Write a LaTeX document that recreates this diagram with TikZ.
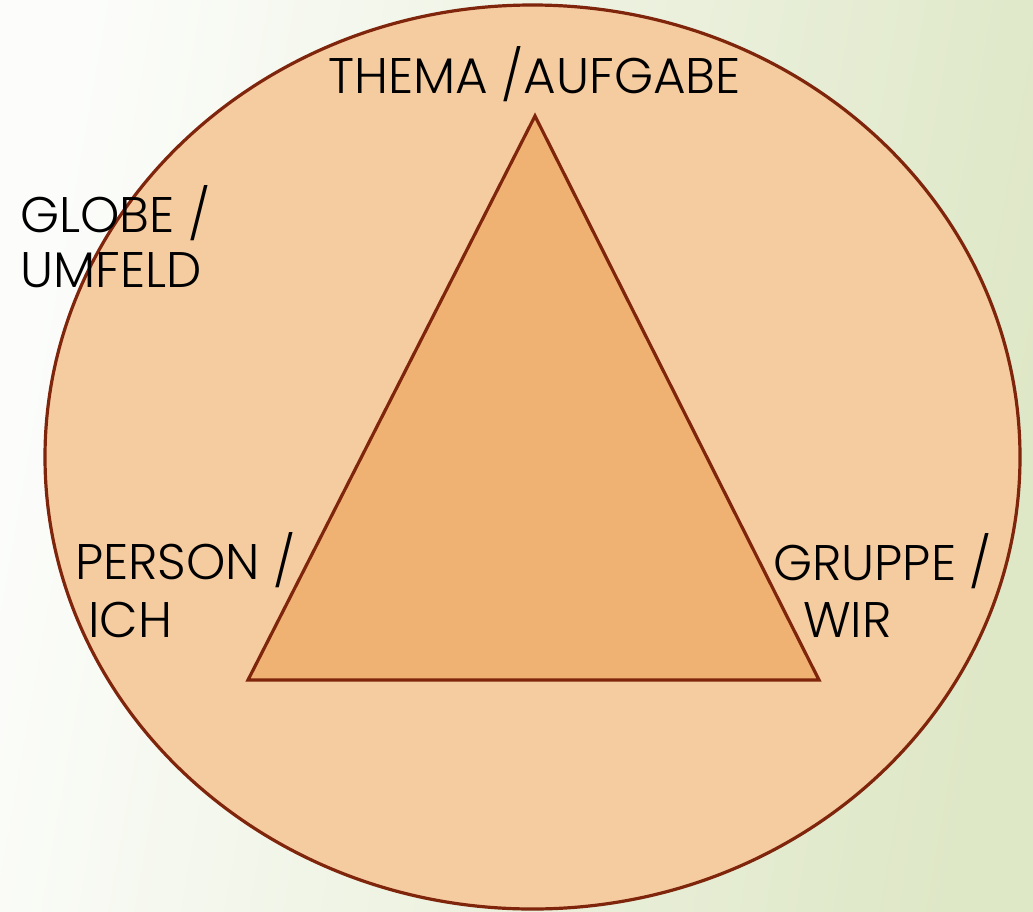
\documentclass[tikz,border=0pt]{standalone}
\usepackage{fontspec}
\setmainfont{Poppins Light}
\definecolor{bgL}{HTML}{FCFDFB}
\definecolor{bgR}{HTML}{DEE7C6}
\definecolor{ellfill}{HTML}{F5CBA0}
\definecolor{trifill}{HTML}{EFB273}
\definecolor{edge}{HTML}{7E250C}
\begin{document}
\begin{tikzpicture}[x=1pt,y=-1pt,
  lbl/.style={anchor=base west,inner sep=0pt,font=\fontsize{50}{56}\selectfont,text=black},
  outline/.style={edge,line width=3.2pt}]
\shade[left color=bgL,right color=bgR,shading angle=80] (0,0) rectangle (1033,911);
\useasboundingbox (0,0) rectangle (1033,911);
\draw[outline,fill=ellfill] (532.5,457) ellipse [x radius=487.5,y radius=452];
\coordinate (apex) at (535,116);
\coordinate (bl) at (248,680);
\coordinate (br) at (819,680);
\draw[outline,fill=trifill,line join=miter] (apex) -- (bl) -- (br) -- cycle;
\node[lbl] (thema) at (328,93) {THEMA /AUFGABE};
\node[lbl] (globe) at (20,232) {GLOBE /};
\node[lbl] (umfeld) at (20,287) {UMFELD};
\node[lbl] (person) at (75,579) {PERSON /};
\node[lbl] (ich) at (88,637) {ICH};
\node[lbl] (gruppe) at (773,580) {GRUPPE /};
\node[lbl] (wir) at (803,637) {WIR};
\end{tikzpicture}
\end{document}
